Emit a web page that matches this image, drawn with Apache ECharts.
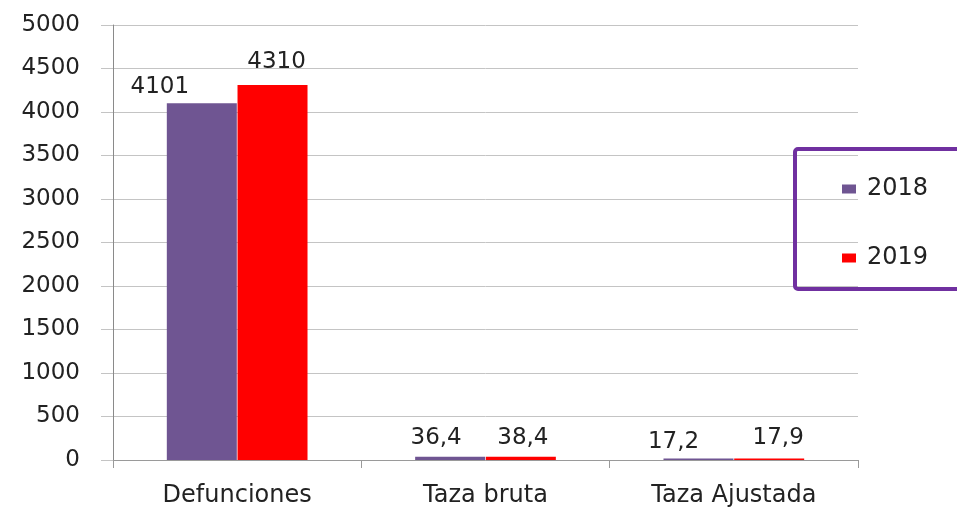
<!DOCTYPE html>
<html>
<head>
<meta charset="utf-8">
<style>
  html, body { margin: 0; padding: 0; background: #ffffff; }
  #chart { width: 957px; height: 509px; }
</style>
<script src="https://cdn.jsdelivr.net/npm/echarts@6/dist/echarts.min.js"></script>
</head>
<body>
<div id="chart"></div>
<script>
// Categories and series values
const categories = ['Defunciones', 'Taza bruta', 'Taza Ajustada'];
const seriesNames = ['2018', '2019'];
const values2018 = [4101, 36.4, 17.2];
const values2019 = [4310, 38.4, 17.9];
const yTicks = [0, 500, 1000, 1500, 2000, 2500, 3000, 3500, 4000, 4500, 5000];

// Label nudges (px) for each bar's value label
const shift2018 = [[-42, 2], [-14, 0], [-25, 2]];
const shift2019 = [[4, -4], [2, 0], [9, -2]];

const fontFamily = '"DejaVu Sans", Verdana, sans-serif';
const textColor = '#222222';

function fmt(v) {
  return Number.isInteger(v) ? String(v) : String(v).replace('.', ',');
}

function buildData(values, shifts) {
  return values.map((v, i) => ({
    value: v,
    label: { offset: shifts[i] }
  }));
}

const valueLabel = {
  show: true,
  position: 'top',
  distance: 7,
  color: textColor,
  fontSize: 23,
  fontFamily: fontFamily,
  formatter: p => fmt(p.value)
};

const chart = echarts.init(document.getElementById('chart'), null, { renderer: 'canvas' });

chart.setOption({
  animation: false,
  backgroundColor: '#ffffff',
  grid: { left: 113, right: 99, top: 25, bottom: 49, containLabel: false },
  xAxis: {
    type: 'category',
    data: categories,
    axisLine: { show: true, lineStyle: { color: '#9a9a9a', width: 1 } },
    axisTick: { show: true, alignWithLabel: false, length: 8, lineStyle: { color: '#9a9a9a' } },
    axisLabel: { color: textColor, fontSize: 24, fontFamily: fontFamily, margin: 24 }
  },
  yAxis: {
    type: 'value',
    min: yTicks[0],
    max: yTicks[yTicks.length - 1],
    interval: yTicks[1] - yTicks[0],
    axisLine: { show: true, lineStyle: { color: '#8a8a8a', width: 1 } },
    axisTick: { show: true, length: 12, lineStyle: { color: '#c4c4c4' } },
    axisLabel: {
      color: textColor, fontSize: 23, fontFamily: fontFamily, margin: 33,
      formatter: v => String(v)
    },
    splitLine: { show: true, lineStyle: { color: '#c4c4c4', width: 1 } }
  },
  legend: {
    orient: 'vertical',
    left: 837,
    top: 172,
    itemWidth: 14,
    itemHeight: 9,
    itemGap: 45,
    icon: 'rect',
    textStyle: { color: textColor, fontSize: 24, fontFamily: fontFamily, padding: [0, 0, 0, 6] },
    data: seriesNames
  },
  graphic: [{
    type: 'rect',
    left: 793,
    top: 147,
    shape: { width: 200, height: 140, r: 3 },
    style: { fill: 'rgba(0,0,0,0)', stroke: '#7030A0', lineWidth: 4 },
    z: 10
  }],
  series: [
    {
      name: seriesNames[0],
      type: 'bar',
      data: buildData(values2018, shift2018),
      barWidth: 70,
      barGap: '1%',
      itemStyle: { color: '#6F5592' },
      label: valueLabel
    },
    {
      name: seriesNames[1],
      type: 'bar',
      data: buildData(values2019, shift2019),
      barWidth: 70,
      itemStyle: { color: '#FF0000' },
      label: valueLabel
    }
  ]
});
</script>
</body>
</html>
